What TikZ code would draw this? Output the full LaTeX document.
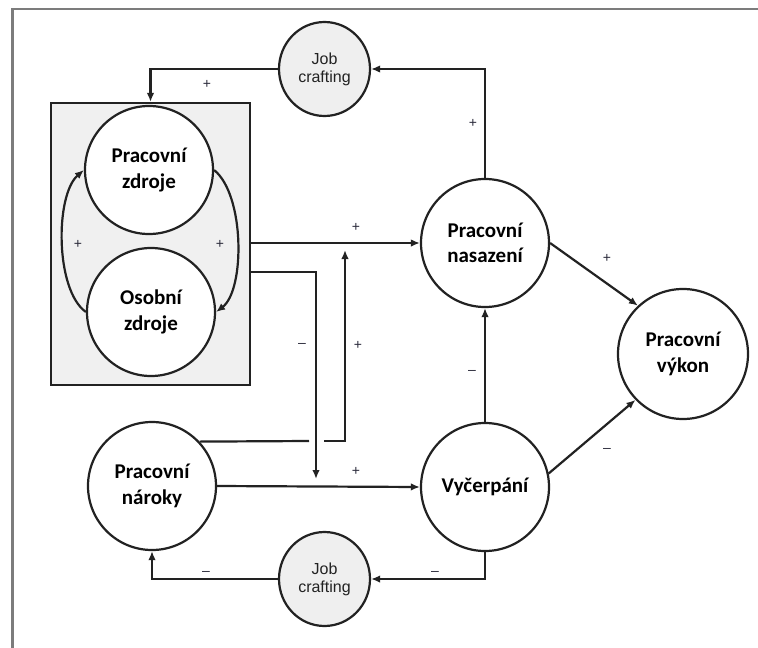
\documentclass[tikz,border=0pt]{standalone}
\usepackage{fontspec}
\setmainfont{Carlito}
\newfontfamily\jcfont{Liberation Sans}
\usetikzlibrary{arrows.meta,shapes.geometric}
\definecolor{framegray}{HTML}{7C7C7C}
\definecolor{boxgray}{HTML}{F0F0F0}
\definecolor{jcgray}{HTML}{EFEFEF}
\definecolor{ink}{HTML}{222222}
\definecolor{signc}{HTML}{2A2A3A}
\begin{document}
\begin{tikzpicture}[x=1pt,y=-1pt,
  conn/.style={draw=ink,line width=2.2pt},
  arr/.style={conn,-{Latex[length=9pt,width=7.5pt]}},
  mainnode/.style={circle,draw=ink,line width=2.2pt,fill=white,minimum size=128pt,inner sep=0pt,align=center,
    font=\fontsize{21}{25.5}\selectfont\bfseries},
  jcnode/.style={ellipse,draw=ink,line width=2.2pt,fill=jcgray,minimum width=91pt,minimum height=94pt,inner sep=0pt,align=center,
    font=\jcfont\fontsize{16}{18}\selectfont,text=ink},
  sign/.style={font=\jcfont\fontsize{14}{14}\selectfont,text=signc,inner sep=0pt}
]
\useasboundingbox (0,0) rectangle (758,648);
\fill[white] (0,0) rectangle (758,648);
% frame
\draw[framegray,line width=2.5pt] (12.5,648) -- (12.5,9) -- (758,9);

% box
\node[draw=ink,line width=2.2pt,fill=boxgray,minimum width=199pt,minimum height=282pt,inner sep=0pt] (box) at (150.5,244) {};

% nodes
\node[mainnode] (pz) at (149,170) {Pracovní\\zdroje};
\node[mainnode] (oz) at (151,312) {Osobní\\zdroje};
\node[mainnode] (pn) at (485,243) {Pracovní\\nasazení};
\node[mainnode,minimum size=130pt] (pv) at (683,354) {Pracovní\\výkon};
\node[mainnode] (nar) at (152,486) {Pracovní\\nároky};
\node[mainnode] (vyc) at (485,487) {Vyčerpání};
\node[jcnode] (jc1) at (324.5,69) {Job\\crafting};
\node[jcnode] (jc2) at (324.5,579) {Job\\crafting};

% coordinates for free ends
\coordinate (d0) at (250,272);
\coordinate (d1) at (316,272);
\coordinate (d2) at (316,479);
\coordinate (g1) at (309,441);
\coordinate (g2) at (324,441);
\coordinate (u1) at (345,441);
\coordinate (u2) at (345,250);

% connectors
\draw[arr] (pn.north) |- (jc1.east);
\draw[arr] (jc1.west) -| (box.north);
\draw[arr] (box.east |- pn.west) -- (pn.west);
\draw[arr] (d0) -- (d1) -- (d2);
\draw[conn] (nar.43.4) -- (g1);
\draw[arr] (g2) -- (u1) -- (u2);
\draw[arr] (nar.east) -- (vyc.west);
\draw[arr] (vyc.north) -- (pn.south);
\draw[arr] (pn.east) -- (pv.133);
\draw[arr] (vyc.12) -- (pv.224);
\draw[arr] (vyc.south) |- (jc2.east);
\draw[arr] (jc2.west) -| (nar.south);
\draw[arr] (oz.west) .. controls (55,290) and (55,195) .. (pz.west);
\draw[arr] (pz.east) .. controls (245,195) and (245,290) .. (oz.east);

% signs
\node[sign] (s1) at (207,84) {+};
\node[sign] (s2) at (473,123) {+};
\node[sign] (s3) at (356,227) {+};
\node[sign] (s4) at (78,244) {+};
\node[sign] (s5) at (220,244) {+};
\node[sign] (s6) at (358,345) {+};
\node[sign] (s7) at (356,471) {+};
\node[sign] (s8) at (607,258) {+};
\node[sign] (m1) at (302,345) {–};
\node[sign] (m2) at (472,372) {–};
\node[sign] (m3) at (607,450) {–};
\node[sign] (m4) at (206,573) {–};
\node[sign] (m5) at (435,573) {–};
\end{tikzpicture}
\end{document}
